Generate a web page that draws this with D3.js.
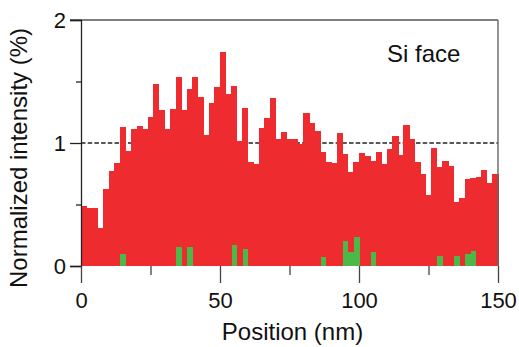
<!DOCTYPE html>
<html>
<head>
<meta charset="utf-8">
<script src="https://cdn.jsdelivr.net/npm/d3@7"></script>
<style>
  body { margin: 0; background: #fff; }
  svg { display: block; font-family: "Liberation Sans", Arial, sans-serif; }
</style>
</head>
<body>
<div id="chart"></div>
<script>
// bin start positions (nm), 2 nm wide bins
const positions = [0, 2, 4, 6, 8, 10, 12, 14, 16, 18, 20, 22, 24, 26, 28, 30, 32, 34, 36, 38,
  40, 42, 44, 46, 48, 50, 52, 54, 56, 58, 60, 62, 64, 66, 68, 70, 72, 74, 76, 78,
  80, 82, 84, 86, 88, 90, 92, 94, 96, 98, 100, 102, 104, 106, 108, 110, 112, 114, 116, 118,
  120, 122, 124, 126, 128, 130, 132, 134, 136, 138, 140, 142, 144, 146, 148];

const redValues = [0.49, 0.47, 0.47, 0.305, 0.63, 0.77, 0.838, 1.13, 0.935, 1.111,
  1.138, 1.116, 1.214, 1.483, 1.265, 1.116, 1.28, 1.537, 1.27, 1.436,
  1.54, 1.375, 1.063, 1.328, 1.458, 1.743, 1.402, 1.466, 1.015, 1.287,
  0.846, 0.833, 1.123, 1.205, 1.368, 1.036, 1.09, 1.03, 1.03, 0.99,
  1.243, 1.164, 1.095, 0.923, 0.842, 0.834, 1.078, 0.91, 0.767, 0.848,
  0.916, 0.897, 0.853, 0.929, 0.826, 0.95, 1.057, 0.905, 1.15, 1.033,
  0.848, 0.748, 0.574, 0.956, 0.808, 0.855, 0.817, 0.524, 0.551, 0.705,
  0.713, 0.725, 0.784, 0.672, 0.745];

const greenPositions = [14, 34, 38, 54, 58, 86, 94, 96, 98, 104, 128, 134, 138, 140];
const greenValues = [0.097, 0.151, 0.151, 0.167, 0.135, 0.07, 0.2, 0.112, 0.235, 0.11,
  0.083, 0.083, 0.098, 0.118];

const binWidth = 2;
const xTicks = [0, 50, 100, 150];
const xMinor = [25, 75, 125];
const yTicks = [0, 1, 2];
const yMinor = [0.5, 1.5];
const refLevel = 1;

const width = 519;
const height = 347;

const svg = d3.select("#chart")
  .append("svg")
  .attr("width", width)
  .attr("height", height);

const x = d3.scaleLinear().domain([0, 150]).range([81, 498]);
const y = d3.scaleLinear().domain([0, 2]).range([266, 20]);

// dashed reference line behind the bars
svg.append("line")
  .attr("x1", x(0))
  .attr("x2", x(150))
  .attr("y1", y(refLevel))
  .attr("y2", y(refLevel))
  .attr("stroke", "#222")
  .attr("stroke-width", 1.3)
  .attr("stroke-dasharray", "4.5,2.2");

svg.append("g")
  .attr("shape-rendering", "crispEdges")
  .selectAll("rect")
  .data(redValues)
  .join("rect")
  .attr("x", (d, i) => x(positions[i]))
  .attr("y", d => y(d))
  .attr("width", x(binWidth) - x(0) + 0.6)
  .attr("height", d => y(0) - y(d))
  .attr("fill", "#ee2b2e");

svg.append("g")
  .attr("shape-rendering", "crispEdges")
  .selectAll("rect")
  .data(greenValues)
  .join("rect")
  .attr("x", (d, i) => x(greenPositions[i]) + 0.5)
  .attr("y", d => y(d))
  .attr("width", x(binWidth) - x(0))
  .attr("height", d => y(0) - y(d))
  .attr("fill", "#4cb848");

// frame: top and right
svg.append("line")
  .attr("x1", 70).attr("x2", x(150))
  .attr("y1", y(2)).attr("y2", y(2))
  .attr("stroke", "#555").attr("stroke-width", 1.3);
svg.append("line")
  .attr("x1", x(150)).attr("x2", x(150))
  .attr("y1", y(2)).attr("y2", y(0))
  .attr("stroke", "#666").attr("stroke-width", 1.4);

// y axis
const yAxis = svg.append("g")
  .attr("transform", `translate(${x(0)},0)`)
  .call(d3.axisLeft(y).tickValues(yTicks).tickSize(11).tickPadding(4).tickFormat(d3.format("d")));
yAxis.select(".domain").attr("stroke", "#222").attr("stroke-width", 1.3);
yAxis.selectAll(".tick line").attr("stroke", "#222").attr("stroke-width", 1.3);
yAxis.selectAll(".tick text")
  .attr("font-size", "22px")
  .attr("fill", "#111")
  .attr("x", 66 - x(0))
  .attr("dy", "0.34em");

svg.append("g")
  .attr("transform", `translate(${x(0)},0)`)
  .call(d3.axisLeft(y).tickValues(yMinor).tickSize(5).tickFormat(""))
  .call(g => g.select(".domain").remove())
  .selectAll(".tick line").attr("stroke", "#222").attr("stroke-width", 1.3);

// x axis
const xAxis = svg.append("g")
  .attr("transform", `translate(0,${y(0)})`)
  .call(d3.axisBottom(x).tickValues(xTicks).tickSize(17).tickPadding(9).tickFormat(d3.format("d")));
xAxis.select(".domain").remove();
xAxis.selectAll(".tick line").attr("stroke", "#444").attr("stroke-width", 1.3);
xAxis.selectAll(".tick text")
  .attr("font-size", "22px")
  .attr("fill", "#111");

svg.append("g")
  .attr("transform", `translate(0,${y(0)})`)
  .call(d3.axisBottom(x).tickValues(xMinor).tickSize(9).tickFormat(""))
  .call(g => g.select(".domain").remove())
  .selectAll(".tick line").attr("stroke", "#444").attr("stroke-width", 1.3);

// titles
svg.append("text")
  .attr("x", (x(0) + x(150)) / 2 + 3)
  .attr("y", 340)
  .attr("text-anchor", "middle")
  .attr("font-size", "24px")
  .attr("fill", "#111")
  .text("Position (nm)");

svg.append("text")
  .attr("transform", "translate(27,158) rotate(-90)")
  .attr("text-anchor", "middle")
  .attr("font-size", "24px")
  .attr("fill", "#111")
  .text("Normalized intensity (%)");

svg.append("text")
  .attr("x", 387)
  .attr("y", 62)
  .attr("font-size", "24px")
  .attr("fill", "#111")
  .text("Si face");
</script>
</body>
</html>
